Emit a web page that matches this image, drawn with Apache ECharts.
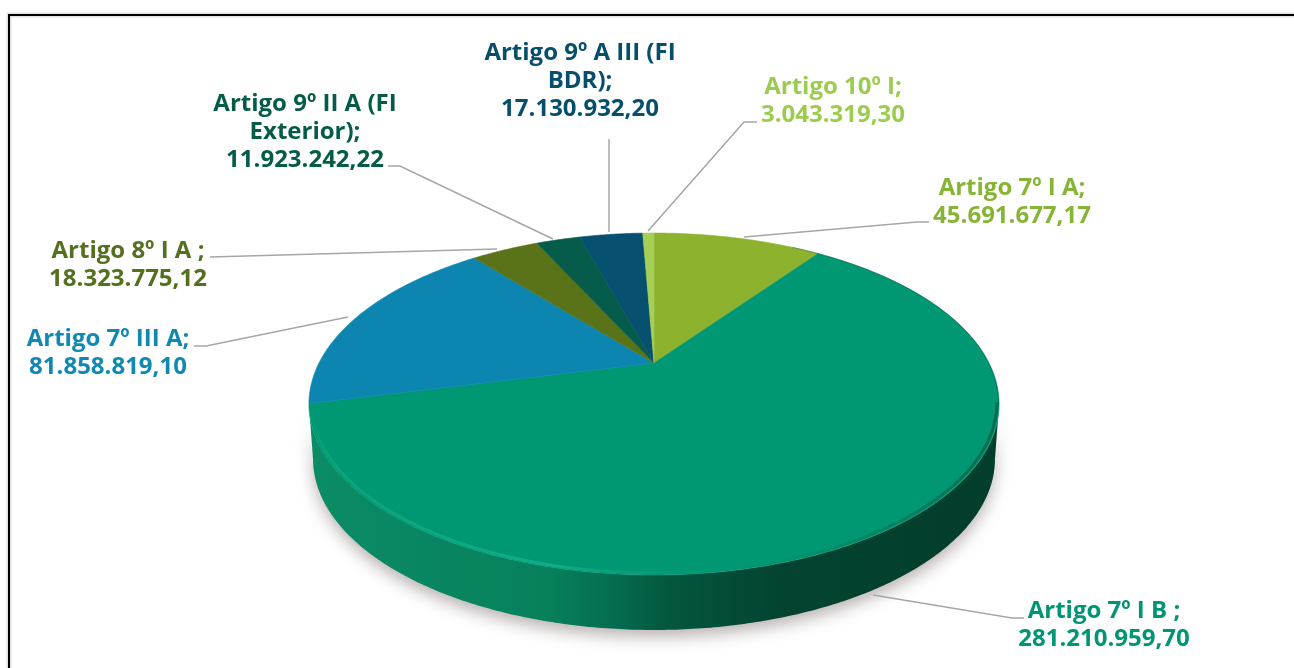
<!DOCTYPE html>
<html><head><meta charset="utf-8">
<style>html,body{margin:0;padding:0;background:#fff}#c{width:1294px;height:668px}</style>
<script src="https://cdn.jsdelivr.net/npm/echarts@6/dist/echarts.min.js"></script>
</head><body><div id="c"></div>
<script>
// Data, clockwise from 12 o'clock
const categories = ['Artigo 7º I A;','Artigo 7º I B ;','Artigo 7º III A;','Artigo 8º I A ;','Artigo 9º II A (FI\nExterior);','Artigo 9º A III (FI\nBDR);','Artigo 10º I;'];
const values = [45691677.17,281210959.70,81858819.10,18323775.12,11923242.22,17130932.20,3043319.30];
const sliceColors = ['#8db32e','#009873','#0c86b1','#5a7319','#055c4a','#07506f','#a5cf57'];
const textColors = ['#86b535','#009574','#1089b2','#53701f','#045c48','#064f6c','#9ccc4d'];
// Layout
const labelPos = [[1012,202],[1104,625],[108,353],[128,265],[305,132],[580,81],[833,101]];
const leaders = [
  [[744,237],[917,222],[929,222]],
  [[873,595],[1012,618],[1024,618]],
  [[348,317],[206,346],[194,346]],
  [[497,249],[210,257]],
  [[553,239],[400,166],[388,166]],
  [[609,232],[609,139]],
  [[648,231],[744,122],[757,122]]
];
const total = values.reduce((a,b)=>a+b,0);
let acc = 0;
const sliceData = values.map(v=>{const s=acc/total;acc+=v;return [s,acc/total];});
const fmt = v => v.toFixed(2).replace('.',',').replace(/\B(?=(\d{3})+(?!\d))/g,'.');

// Perspective projection of the pie disc
const P = {cx:654,cy:363,a:74.1,c:-0.2398,k:335};
function project(theta,k,dy){
  const u=Math.sin(theta),v=-Math.cos(theta),d=1+P.c*v;
  return [P.cx+k*u/d,(P.a*v+P.cy)/d+dy];
}
function arc(t0,t1,k,dy){
  const n=Math.max(2,Math.ceil(Math.abs(t1-t0)/0.01)),pts=[];
  for(let i=0;i<=n;i++)pts.push(project(t0+(t1-t0)*i/n,k,dy));
  return pts;
}
const T=Math.PI*2, frontL=T*256/360, frontR=T*104/360;
const chart=echarts.init(document.getElementById('c'),null,{renderer:'canvas'});
chart.setOption({
  backgroundColor:'#fff',animation:false,
  graphic:[
    {type:'polyline',z:1,shape:{points:[[9,668],[9,15],[1294,15]]},style:{stroke:'#e2e2e2',lineWidth:5,fill:null}},
    {type:'polyline',z:2,shape:{points:[[9,668],[9,15],[1294,15]]},style:{stroke:'#000',lineWidth:2,fill:null}}
  ],
  series:[
    {type:'custom',coordinateSystem:'none',z:2,data:[[0]],silent:true,
     renderItem(){
       const top=arc(frontR,frontL,P.k,0),bottom=arc(frontL,frontR,331,55);
       return {type:'polygon',shape:{points:top.concat(bottom)},
         style:{fill:new echarts.graphic.LinearGradient(309,0,999,0,[
           {offset:0,color:'#0a8c66'},{offset:.35,color:'#07805c'},{offset:.45,color:'#056a4e'},
           {offset:.52,color:'#04573f'},{offset:.68,color:'#034331'},{offset:1,color:'#033d2b'}],true),
           shadowBlur:16,shadowColor:'rgba(60,40,40,.35)',shadowOffsetY:7}};
     }},
    {type:'custom',coordinateSystem:'none',z:3,data:sliceData,silent:true,
     renderItem(params,api){
       const s=api.value(0)*T,e=api.value(1)*T,c=[P.cx,P.cy];
       return {type:'polygon',shape:{points:[c].concat(arc(s,e,P.k,0))},
         style:{fill:sliceColors[params.dataIndex],stroke:sliceColors[params.dataIndex],lineWidth:.6}};
     }},
    {type:'custom',coordinateSystem:'none',z:4,data:[[0]],silent:true,
     renderItem(){
       return {type:'group',children:[
         {type:'polyline',shape:{points:arc(frontR,frontL,P.k-2,-2)},
          style:{fill:null,lineWidth:3,stroke:new echarts.graphic.LinearGradient(309,0,999,0,[
            {offset:0,color:'rgba(16,180,138,0)'},{offset:.03,color:'rgba(16,175,135,.55)'},
            {offset:.35,color:'rgba(20,185,145,.7)'},{offset:.55,color:'rgba(12,160,120,.25)'},
            {offset:.68,color:'rgba(0,120,90,.1)'},{offset:.85,color:'rgba(0,90,68,.35)'},
            {offset:1,color:'rgba(0,70,52,.55)'}],true),shadowBlur:6,shadowColor:'rgba(10,130,100,.45)'}},
         {type:'polyline',shape:{points:arc(T*30/360,frontR,P.k-.5,0)},
          style:{fill:null,lineWidth:1,stroke:'rgba(20,70,60,.4)'}}
       ]};
     }},
    {type:'custom',coordinateSystem:'none',z:5,data:values.map((v,i)=>[v,i]),silent:true,
     renderItem(params,api){
       const i=params.dataIndex,v=api.value(0);
       return {type:'group',children:[
         {type:'polyline',shape:{points:leaders[i]},style:{fill:null,stroke:'#a6a6a6',lineWidth:1.5}},
         {type:'text',style:{text:categories[i]+'\n'+fmt(v),x:labelPos[i][0],y:labelPos[i][1],
           align:'center',verticalAlign:'middle',fill:textColors[i],
           font:'bold 24px "Open Sans"',lineHeight:28}}
       ]};
     }}
  ]
});
</script></body></html>
